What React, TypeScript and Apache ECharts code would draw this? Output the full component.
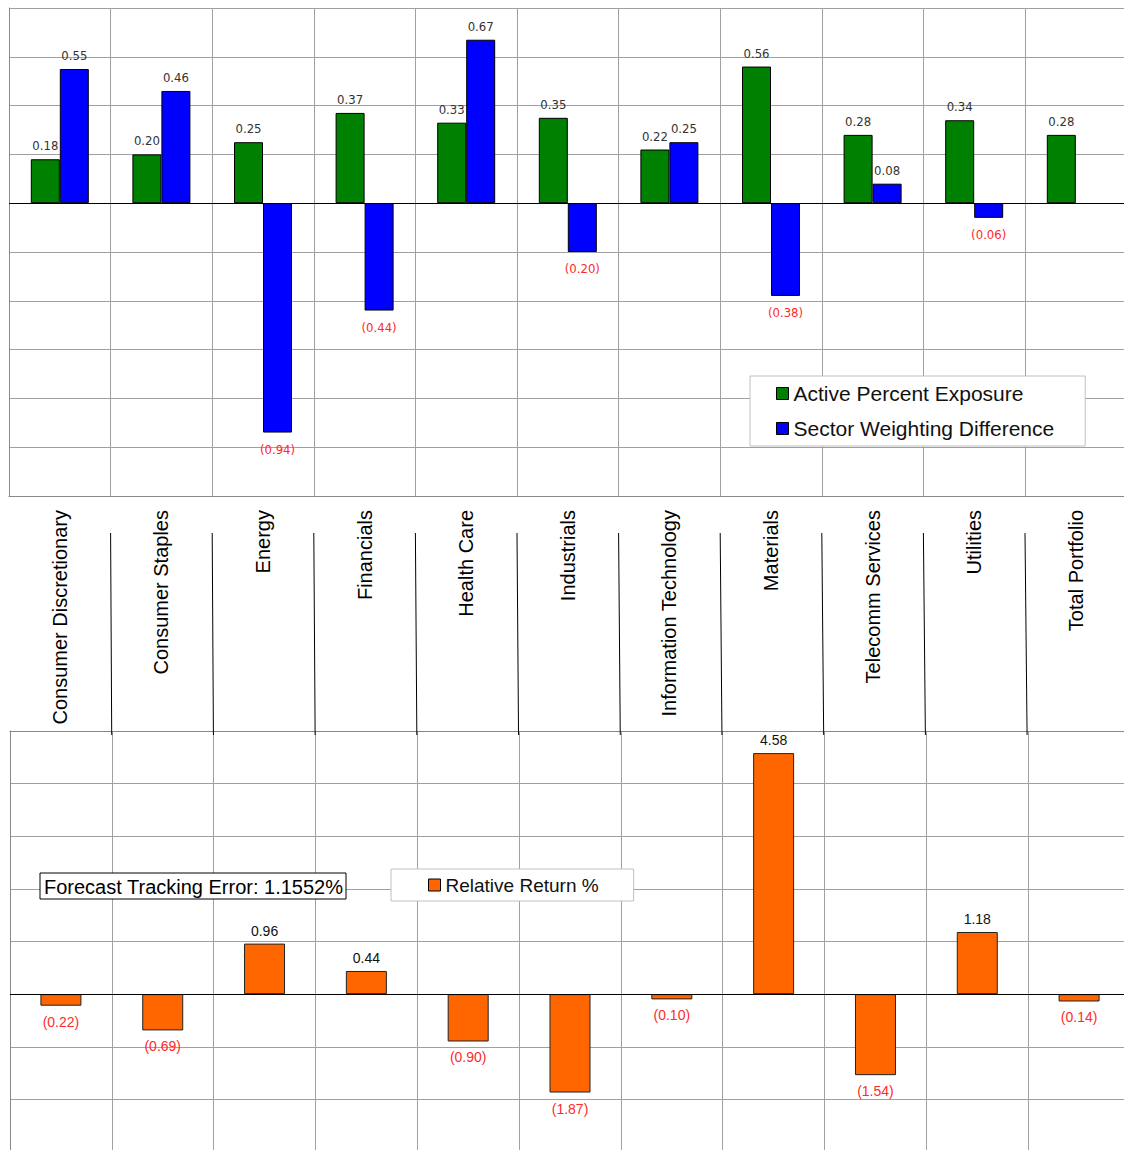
import React, { useEffect, useRef } from "react";
import * as echarts from "echarts";

const categories = [
  "Consumer Discretionary",
  "Consumer Staples",
  "Energy",
  "Financials",
  "Health Care",
  "Industrials",
  "Information Technology",
  "Materials",
  "Telecomm Services",
  "Utilities",
  "Total Portfolio",
];
const activeExposure = [0.18, 0.2, 0.25, 0.37, 0.33, 0.35, 0.22, 0.56, 0.28, 0.34, 0.28];
const sectorWeightDiff: (number | null)[] = [0.55, 0.46, -0.94, -0.44, 0.67, -0.2, 0.25, -0.38, 0.08, -0.06, null];
const relativeReturn = [-0.22, -0.69, 0.96, 0.44, -0.9, -1.87, -0.1, 4.58, -1.54, 1.18, -0.14];
const seriesNames = ["Active Percent Exposure", "Sector Weighting Difference", "Relative Return %"];
const trackingErrorText = "Forecast Tracking Error: 1.1552%";

const SANS = "'Liberation Sans', Arial, sans-serif";
const NARROW = "'Liberation Sans Narrow', 'Arial Narrow', 'DejaVu Sans Condensed', sans-serif";

// layout constants
const TOP = { left: 9, top: 8, width: 1117.6, height: 488 };
const BOT = { left: 10, top: 731, width: 1120, height: 421 };

function labelled(values: (number | null)[], posDist: number, negDist: number, posColor: string, font: string, size: number) {
  return values.map((v) => {
    if (v == null) return null;
    const neg = v < 0;
    return {
      value: v,
      label: {
        show: true,
        position: neg ? "bottom" : "top",
        distance: neg ? negDist : posDist,
        color: neg ? "#ff2a2a" : posColor,
        fontFamily: font,
        fontSize: size,
        formatter: neg ? "(" + Math.abs(v).toFixed(2) + ")" : v.toFixed(2),
      },
    };
  });
}

export default function App() {
  const ref = useRef<HTMLDivElement>(null);
  useEffect(() => {
    if (!ref.current) return;
    const chart = echarts.init(ref.current, null, { renderer: "svg" });
    const n = categories.length;
    const topCw = TOP.width / n;
    const botCw = BOT.width / n;
    const separators = [];
    for (let i = 1; i < n; i++) {
      const xt = TOP.left + i * topCw;
      const xb = BOT.left + i * botCw;
      separators.push({
        type: "line",
        shape: { x1: xt, y1: 533, x2: (xt + xb) / 2 + 0.5, y2: 735 },
        style: { stroke: "#000", lineWidth: 1 },
        z: 10,
      });
    }
    const gridLine = { show: true, lineStyle: { color: "#a0a0a0", width: 1 } };
    const border = { show: true, lineStyle: { color: "#888", width: 1 } };
    chart.setOption({
      animation: false,
      backgroundColor: "#fff",
      grid: [
        { ...TOP, containLabel: false, outerBoundsMode: "none" },
        { ...BOT, containLabel: false, outerBoundsMode: "none" },
      ],
      xAxis: [
        {
          type: "category",
          gridIndex: 0,
          data: categories,
          position: "bottom",
          axisLine: { ...border, onZero: false },
          axisTick: { show: false },
          splitLine: { ...gridLine, interval: 0 },
          axisLabel: {
            interval: 0,
            rotate: 90,
            margin: 14,
            fontSize: 20,
            color: "#000",
            fontFamily: SANS,
          },
        },
        {
          type: "category",
          gridIndex: 1,
          data: categories,
          position: "top",
          axisLine: { ...border, onZero: false },
          axisTick: { show: false },
          splitLine: { ...gridLine, interval: 0 },
          axisLabel: { show: false },
        },
      ],
      yAxis: [
        {
          type: "value",
          gridIndex: 0,
          min: -1.2,
          max: 0.8,
          interval: 0.2,
          axisLine: border,
          axisTick: { show: false },
          axisLabel: { show: false },
          splitLine: gridLine,
        },
        {
          type: "value",
          gridIndex: 1,
          min: -3,
          max: 5,
          interval: 1,
          axisLine: border,
          axisTick: { show: false },
          axisLabel: { show: false },
          splitLine: gridLine,
        },
      ],
      legend: [
        {
          data: [seriesNames[0], seriesNames[1]],
          orient: "vertical",
          left: 750,
          top: 376,
          padding: [6, 31, 6, 26],
          itemGap: 12,
          itemWidth: 12,
          itemHeight: 12,
          icon: "rect",
          backgroundColor: "#fff",
          borderColor: "#c0c0c0",
          borderWidth: 1,
          itemStyle: { borderColor: "#000", borderWidth: 1 },
          textStyle: { fontSize: 21, color: "#111", fontFamily: SANS, lineHeight: 23 },
          selectedMode: false,
        },
        {
          data: [seriesNames[2]],
          left: 391,
          top: 869,
          padding: [5, 35, 5, 37],
          itemWidth: 12,
          itemHeight: 12,
          icon: "rect",
          backgroundColor: "#fff",
          borderColor: "#c0c0c0",
          borderWidth: 1,
          itemStyle: { borderColor: "#000", borderWidth: 1 },
          textStyle: { fontSize: 19, color: "#111", fontFamily: SANS, lineHeight: 22 },
          selectedMode: false,
        },
      ],
      series: [
        {
          name: seriesNames[0],
          type: "bar",
          xAxisIndex: 0,
          yAxisIndex: 0,
          barWidth: 29,
          barGap: "0%",
          itemStyle: { color: "#008000", borderColor: "#000", borderWidth: 1 },
          data: labelled(activeExposure, 7, 10, "#333", NARROW, 13),
          markLine: {
            silent: true,
            symbol: "none",
            label: { show: false },
            lineStyle: { color: "#000", width: 1, type: "solid" },
            data: [{ yAxis: 0 }],
          },
        },
        {
          name: seriesNames[1],
          type: "bar",
          xAxisIndex: 0,
          yAxisIndex: 0,
          barWidth: 29,
          barGap: "0%",
          itemStyle: { color: "#0000ff", borderColor: "#000", borderWidth: 1 },
          data: labelled(sectorWeightDiff, 7, 10, "#333", NARROW, 13),
        },
        {
          name: seriesNames[2],
          type: "bar",
          xAxisIndex: 1,
          yAxisIndex: 1,
          barWidth: 41,
          itemStyle: { color: "#ff6600", borderColor: "#222", borderWidth: 1 },
          data: labelled(relativeReturn, 6, 9, "#111", SANS, 14),
          markLine: {
            silent: true,
            symbol: "none",
            label: { show: false },
            lineStyle: { color: "#000", width: 1, type: "solid" },
            data: [{ yAxis: 0 }],
          },
        },
      ],
      graphic: [
        ...separators,
        {
          type: "rect",
          shape: { x: 40, y: 873, width: 306, height: 26 },
          style: { fill: "#fff", stroke: "#000", lineWidth: 1 },
          z: 20,
        },
        {
          type: "text",
          x: 44,
          y: 887,
          style: {
            text: trackingErrorText,
            fontSize: 20,
            fontFamily: SANS,
            fill: "#000",
            verticalAlign: "middle",
            align: "left",
          },
          z: 21,
        },
      ],
    });
    return () => chart.dispose();
  }, []);
  return (
    <div
      ref={ref}
      style={{ position: "absolute", left: 0, top: 0, width: 1124, height: 1150, background: "#fff" }}
    />
  );
}
